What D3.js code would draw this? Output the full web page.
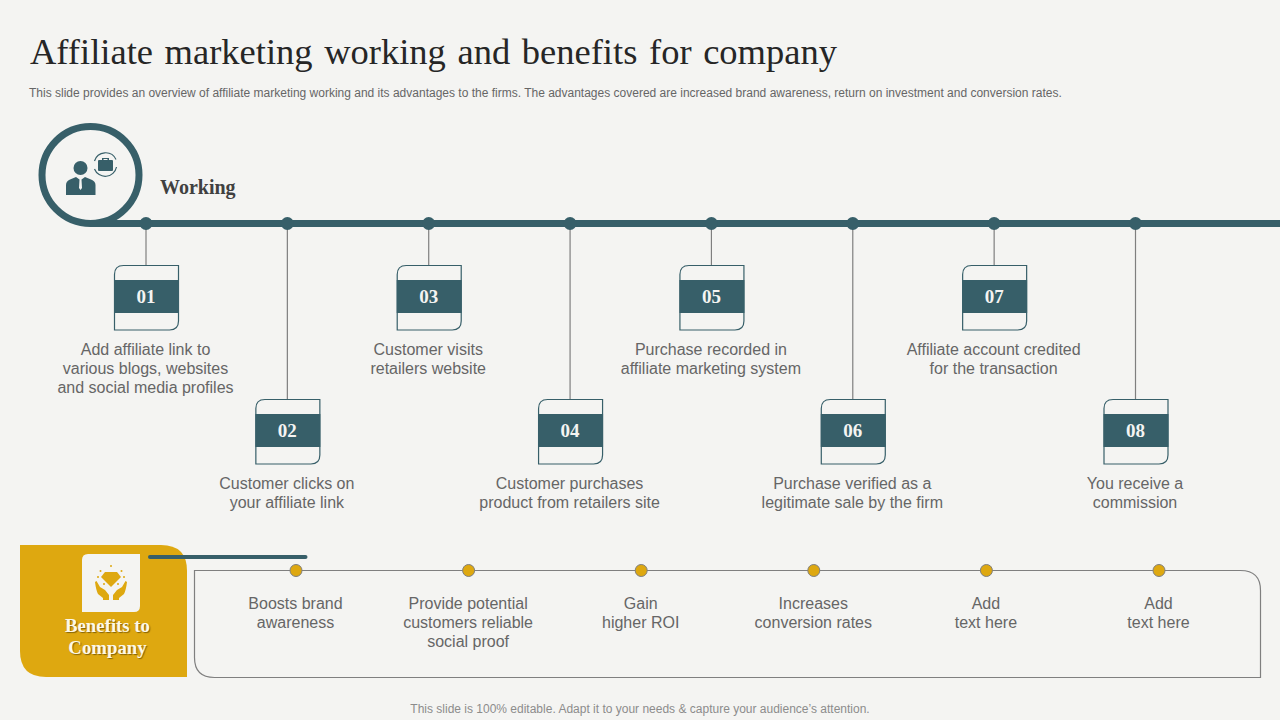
<!DOCTYPE html>
<html>
<head>
<meta charset="utf-8">
<script src="https://cdn.jsdelivr.net/npm/d3@7/dist/d3.min.js"></script>
<style>
html,body{margin:0;padding:0;background:#f4f4f2;overflow:hidden}
text{font-family:"Liberation Sans",Arial,sans-serif}
.serif{font-family:"Liberation Serif","Times New Roman",serif}
</style>
</head>
<body>
<script>
// slide data
var titleText = "Affiliate marketing working and benefits for company";
var subText = "This slide provides an overview of affiliate marketing working and its advantages to the firms. The advantages covered are increased brand awareness, return on investment and conversion rates.";
var footText = "This slide is 100% editable. Adapt it to your needs & capture your audience\u2019s attention.";

var stepNums = ["01","02","03","04","05","06","07","08"];
var stepText = [
  ["Add affiliate link to","various blogs, websites","and social media profiles"],
  ["Customer clicks on","your affiliate link"],
  ["Customer visits","retailers website"],
  ["Customer purchases","product from retailers site"],
  ["Purchase recorded in","affiliate marketing system"],
  ["Purchase verified as a","legitimate sale by the firm"],
  ["Affiliate account credited","for the transaction"],
  ["You receive a","commission"]
];
var benefitText = [
  ["Boosts brand","awareness"],
  ["Provide potential","customers reliable","social proof"],
  ["Gain","higher ROI"],
  ["Increases","conversion rates"],
  ["Add","text here"],
  ["Add","text here"]
];

var teal = "#375f69", gold = "#dea810", grey = "#7f7f7f", txt = "#666666";

var svg = d3.select("body").append("svg")
  .attr("width",1280).attr("height",720)
  .attr("viewBox","0 0 1280 720")
  .style("display","block");

svg.append("rect").attr("width",1280).attr("height",720).attr("fill","#f4f4f2");

// header
svg.append("text").attr("class","serif")
  .attr("x",30).attr("y",64)
  .attr("font-size",36.5).attr("fill","#262626")
  .attr("word-spacing",2.5)
  .text(titleText);
svg.append("text")
  .attr("x",29).attr("y",96.5)
  .attr("font-size",12).attr("fill","#666666")
  .text(subText);

//scales for the two rows of items
var xStep = d3.scalePoint().domain(stepNums).range([146,1135.5]);
var xBen = d3.scalePoint().domain(d3.range(benefitText.length)).range([296,1159]);

var lineY = 223.5;

// rounded on two opposite corners (top left + bottom right, or the other way)
function cornerBox(x,y,w,h,r,topLeft){
  if(topLeft){
    return `M${x+r},${y}H${x+w}V${y+h-r}Q${x+w},${y+h} ${x+w-r},${y+h}H${x}V${y+r}Q${x},${y} ${x+r},${y}Z`;
  }
  return `M${x},${y}H${x+w-r}Q${x+w},${y} ${x+w},${y+r}V${y+h}H${x+r}Q${x},${y+h} ${x},${y+h-r}Z`;
}

// working timeline
svg.append("circle").attr("cx",90.5).attr("cy",175).attr("r",48.5)
  .attr("fill","none").attr("stroke",teal).attr("stroke-width",7);
svg.append("line").attr("x1",90).attr("x2",1280).attr("y1",lineY).attr("y2",lineY)
  .attr("stroke",teal).attr("stroke-width",7);

svg.append("text").attr("class","serif")
  .attr("x",160).attr("y",194)
  .attr("font-size",20).attr("font-weight","bold").attr("fill","#404040")
  .text("Working");

// person icon
var icon = svg.append("g").attr("fill",teal);
icon.append("circle").attr("cx",80.5).attr("cy",168).attr("r",7);
icon.append("path").attr("d","M66,195V185Q66,181 70,179.500L76,177L79.500,179.500L79,188L80.500,190L82,188L81.500,179.500L85,177L91,179.500Q95.500,181 95.500,185V195Z");
// briefcase + arrows
icon.append("path").attr("d","M99,160H112Q113,160 113,161V170Q113,171 112,171H99Q98,171 98,170V161Q98,160 99,160ZM102,160V158H109V160H107.500V159H103.500V160Z");
var arrows = svg.append("g").attr("fill","none").attr("stroke",teal).attr("stroke-width",1.2);
arrows.append("path").attr("d","M94.500,161A11.500,11.500 0 0 1 116,159.500");
arrows.append("path").attr("d","M116.500,167A11.500,11.500 0 0 1 94.500,169");

// step stems, dots and boxes
var steps = svg.append("g").selectAll("g.step")
  .data(stepNums).enter().append("g").attr("class","step");

function boxTop(i){ return i%2===0 ? 265.5 : 399.5; }

steps.append("line")
  .attr("x1",d=>xStep(d)).attr("x2",d=>xStep(d))
  .attr("y1",lineY).attr("y2",(d,i)=>boxTop(i))
  .attr("stroke",grey).attr("stroke-width",1.2);
steps.append("circle")
  .attr("cx",d=>xStep(d)).attr("cy",lineY).attr("r",6.5).attr("fill",teal);
steps.append("path")
  .attr("d",(d,i)=>cornerBox(xStep(d)-31.5,boxTop(i),64,64.5,9,true))
  .attr("fill","#f4f4f2").attr("stroke",teal).attr("stroke-width",1.2);
steps.append("rect")
  .attr("x",d=>xStep(d)-32).attr("y",(d,i)=>boxTop(i)+14.5)
  .attr("width",65).attr("height",33).attr("fill",teal);
steps.append("text").attr("class","serif")
  .attr("x",d=>xStep(d)).attr("y",(d,i)=>boxTop(i)+37.5)
  .attr("text-anchor","middle").attr("font-size",19).attr("font-weight","bold")
  .attr("fill","#f4f4f2").text(d=>d);

steps.each(function(d,i){
  var t = d3.select(this).append("text")
    .attr("text-anchor","middle").attr("font-size",16).attr("fill",txt);
  t.selectAll("tspan").data(stepText[i]).enter().append("tspan")
    .attr("x",xStep(d)-0.5)
    .attr("y",(s,j)=>boxTop(i)+89.5+j*19)
    .text(s=>s);
});

// benefits panel
svg.append("path").attr("d",cornerBox(20,545,167,132,26,false)).attr("fill",gold);
svg.append("path").attr("d",cornerBox(82,554,58,58,6,true)).attr("fill","#f4f4f2");

// hands + diamond
var gem = svg.append("g").attr("fill",gold);
gem.append("path").attr("d","M105,572H117L121,577L111,587L101,577Z");
gem.append("path").attr("d","M95,582L96.500,581L100,587L105,590L109,595V600H103V598L98,594Q96,590 95,582Z");
gem.append("path").attr("d","M127,582L125.500,581L122,587L117,590L113,595V600H119V598L124,594Q126,590 127,582Z");
gem.selectAll("circle.spark").data([[111,566],[100.500,571],[121.500,571],[98,577],[124,577],[104,584],[118,584]])
  .enter().append("circle").attr("class","spark")
  .attr("cx",d=>d[0]).attr("cy",d=>d[1]).attr("r",1);

var benTitle = svg.append("text").attr("class","serif")
  .attr("text-anchor","middle").attr("font-size",18.8).attr("font-weight","bold")
  .attr("fill","#fdf8e8")
  .style("text-shadow","1px 1px 1px rgba(70,50,0,.6)");
benTitle.selectAll("tspan").data(["Benefits to","Company"]).enter().append("tspan")
  .attr("x",107.5).attr("y",(d,i)=>632+i*22).text(d=>d);

svg.append("path").attr("d",cornerBox(194.5,570.5,1066,107,20,false))
  .attr("fill","none").attr("stroke",grey).attr("stroke-width",1.2);
svg.append("line").attr("x1",150).attr("x2",305.500).attr("y1",557).attr("y2",557)
  .attr("stroke",teal).attr("stroke-width",4).attr("stroke-linecap","round");

var bens = svg.append("g").selectAll("g.ben")
  .data(benefitText).enter().append("g").attr("class","ben");
bens.append("circle")
  .attr("cx",(d,i)=>xBen(i)).attr("cy",570.5).attr("r",6)
  .attr("fill",gold).attr("stroke",grey).attr("stroke-width",1);
bens.each(function(d,i){
  var t = d3.select(this).append("text")
    .attr("text-anchor","middle").attr("font-size",16).attr("fill",txt);
  t.selectAll("tspan").data(d).enter().append("tspan")
    .attr("x",xBen(i)-0.5)
    .attr("y",(s,j)=>609+j*19)
    .text(s=>s);
});

// footer
svg.append("text")
  .attr("x",640).attr("y",713)
  .attr("text-anchor","middle").attr("font-size",12).attr("fill","#8c8c8c")
  .text(footText);
</script>
</body>
</html>
